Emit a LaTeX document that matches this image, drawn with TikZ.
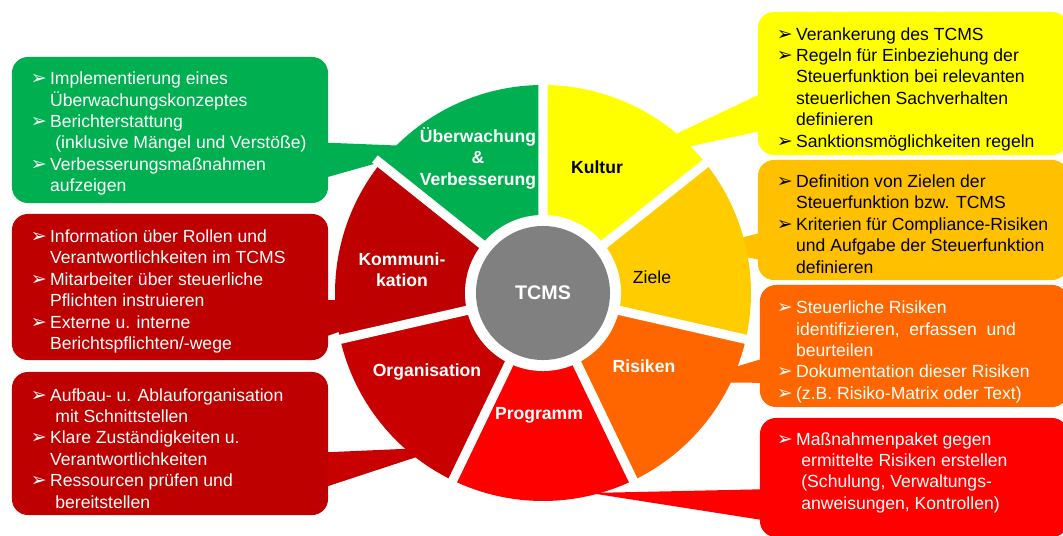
\documentclass[tikz,border=0pt]{standalone}
\usepackage{fontspec}
\usepackage{xcolor}
\setmainfont{Liberation Sans}
\newfontfamily\arrowfont{DejaVu Sans}

\definecolor{uebgreen}{HTML}{00B050}
\definecolor{kulyellow}{HTML}{FFFF00}
\definecolor{ziegold}{HTML}{FFCC00}
\definecolor{zieboxgold}{HTML}{FFC000}
\definecolor{risorange}{HTML}{FF6600}
\definecolor{prored}{HTML}{FF0000}
\definecolor{komred}{HTML}{BE0000}
\definecolor{orgred}{HTML}{C80000}
\definecolor{hubgray}{HTML}{808080}

\newcommand{\itm}{\makebox[1.1em][l]{\arrowfont\fontsize{13.5}{13.5}\selectfont ➢}}
\newcommand{\cnt}{\hspace*{1.1em}}
\newcommand{\cntx}{\hspace*{1.4em}}

\begin{document}
\begin{tikzpicture}[x=0.025cm,y=0.025cm,
    box/.style={rounded corners=0.4cm,inner sep=0pt},
    txt/.style={anchor=west,align=left,inner sep=0pt,font=\fontsize{12.5}{15.2}\selectfont},
    seglabel/.style={align=center,text=white,font=\bfseries\fontsize{12.5}{15.2}\selectfont},
    gap/.style={white,line width=0.23cm}]
            \path[use as bounding box,fill=white] (0,0) rectangle (1063,535);
            \coordinate (hub) at (543,242);

            % callout tails
            \fill[uebgreen] (310,393) -- (434,388) -- (310,353) -- cycle;
            \fill[komred] (310,235) -- (430,235) -- (310,193) -- cycle;
            \fill[orgred] (310,82) -- (447,88) -- (310,43) -- cycle;
            \fill[kulyellow] (775,448) -- (617,373) -- (775,407) -- cycle;
            \fill[zieboxgold] (775,306) -- (702,287) -- (775,272) -- cycle;
            \fill[risorange] (775,180) -- (685,153) -- (775,152) -- cycle;
            \fill[prored] (775,46) -- (590,42) -- (775,13) -- cycle;

            % boxes
            \node (uebBox) at (170,405) [box,fill=uebgreen,minimum width=7.9cm,minimum height=3.65cm] {};
            \node (komBox) at (170,248) [box,fill=komred,minimum width=7.9cm,minimum height=3.65cm] {};
            \node (orgBox) at (170,91.5) [box,fill=komred,minimum width=7.9cm,minimum height=3.575cm] {};
            \node (kulBox) at (913,451.5) [box,fill=kulyellow,minimum width=7.75cm,minimum height=3.575cm] {};
            \node (zieBox) at (913,315) [box,fill=zieboxgold,minimum width=7.75cm,minimum height=3.0cm] {};
            \node (risBox) at (914,189) [box,fill=risorange,minimum width=7.7cm,minimum height=3.05cm] {};
            \node (proBox) at (914,57.5) [box,fill=prored,minimum width=7.7cm,minimum height=2.975cm] {};

            \node (uebText) at ([xshift=0.47cm,yshift=-0.09cm]uebBox.west) [txt,text=white]
                {\itm Implementierung eines\\ \cnt Überwachungskonzeptes\\ \itm Berichterstattung\\
                 \cntx(inklusive Mängel und Verstöße)\\ \itm Verbesserungsmaßnahmen\\ \cnt aufzeigen};
            \node (komText) at ([xshift=0.47cm,yshift=-0.11cm]komBox.west) [txt,text=white]
                {\itm Information über Rollen und\\ \cnt Verantwortlichkeiten im TCMS\\ \itm Mitarbeiter über steuerliche\\
                 \cnt Pflichten instruieren\\ \itm Externe u. interne\\ \cnt Berichtspflichten/-wege};
            \node (orgText) at ([xshift=0.47cm,yshift=-0.12cm]orgBox.west) [txt,text=white]
                {\itm Aufbau- u. Ablauforganisation\\ \cntx mit Schnittstellen\\ \itm Klare Zuständigkeiten u.\\
                 \cnt Verantwortlichkeiten\\ \itm Ressourcen prüfen und\\ \cntx bereitstellen};
            \node (kulText) at ([xshift=0.47cm,yshift=-0.14cm]kulBox.west) [txt,text=black]
                {\itm Verankerung des TCMS\\ \itm Regeln für Einbeziehung der\\ \cnt Steuerfunktion bei relevanten\\
                 \cnt steuerlichen Sachverhalten\\ \cnt definieren\\ \itm Sanktionsmöglichkeiten regeln};
            \node (zieText) at ([xshift=0.47cm,yshift=-0.1cm]zieBox.west) [txt,text=black]
                {\itm Definition von Zielen der\\ \cnt Steuerfunktion bzw. TCMS\\ \itm Kriterien für Compliance-Risiken\\
                 \cnt und Aufgabe der Steuerfunktion\\ \cnt definieren};
            \node (risText) at ([xshift=0.42cm,yshift=-0.15cm]risBox.west) [txt,text=white]
                {\itm Steuerliche Risiken\\ \cnt identifizieren,\ \ erfassen\ \ und\\ \cnt beurteilen\\
                 \itm Dokumentation dieser Risiken\\ \itm (z.B. Risiko-Matrix oder Text)};
            \node (proText) at ([xshift=0.42cm,yshift=0.12cm]proBox.west) [txt,text=white]
                {\itm Maßnahmenpaket gegen\\ \cntx ermittelte Risiken erstellen\\ \cntx (Schulung, Verwaltungs-\\
                 \cntx anweisungen, Kontrollen)};

            % wheel
            \fill[kulyellow] (hub) -- ++(90:208) arc[start angle=90,end angle=38.57,radius=208] -- cycle;
            \fill[ziegold] (hub) -- ++(38.57:208) arc[start angle=38.57,end angle=-12.86,radius=208] -- cycle;
            \fill[risorange] (hub) -- ++(-12.86:208) arc[start angle=-12.86,end angle=-64.29,radius=208] -- cycle;
            \fill[prored] (hub) -- ++(-64.29:208) arc[start angle=-64.29,end angle=-115.71,radius=208] -- cycle;
            \fill[orgred] (hub) -- ++(-115.71:208) arc[start angle=-115.71,end angle=-167.14,radius=208] -- cycle;
            \fill[komred] (hub) -- ++(-167.14:208) arc[start angle=-167.14,end angle=-218.57,radius=208] -- cycle;
            \fill[uebgreen] (hub) -- ++(141.43:208) arc[start angle=141.43,end angle=90,radius=208] -- cycle;

            \node (uebLabel) at (478,377) [seglabel] {Überwachung\\\&\\Verbesserung};
            \node (kulLabel) at (597,368) [seglabel,text=black] {Kultur};
            \node (zieLabel) at (652,258) [seglabel,text=black,font=\fontsize{12.5}{15.2}\selectfont] {Ziele};
            \node (risLabel) at (644,169) [seglabel] {Risiken};
            \node (proLabel) at (539,120) [seglabel] {Programm};
            \node (orgLabel) at (427,163) [seglabel] {Organisation};
            \node (komLabel) at (402,265) [seglabel] {Kommuni-\\kation};

            \draw[gap] (hub) -- ++(90:215) (hub) -- ++(38.57:215) (hub) -- ++(-12.86:215) (hub) -- ++(-64.29:215)
                (hub) -- ++(-115.71:215) (hub) -- ++(-167.14:215) (hub) -- ++(141.43:215);

            \node (ring) at (hub) [circle,fill=white,minimum size=3.9cm] {};
            \node (tcms) at (hub) [circle,fill=hubgray,minimum size=3.35cm,text=white,font=\bfseries\fontsize{14}{16}\selectfont] {TCMS};

        \end{tikzpicture}
\end{document}
